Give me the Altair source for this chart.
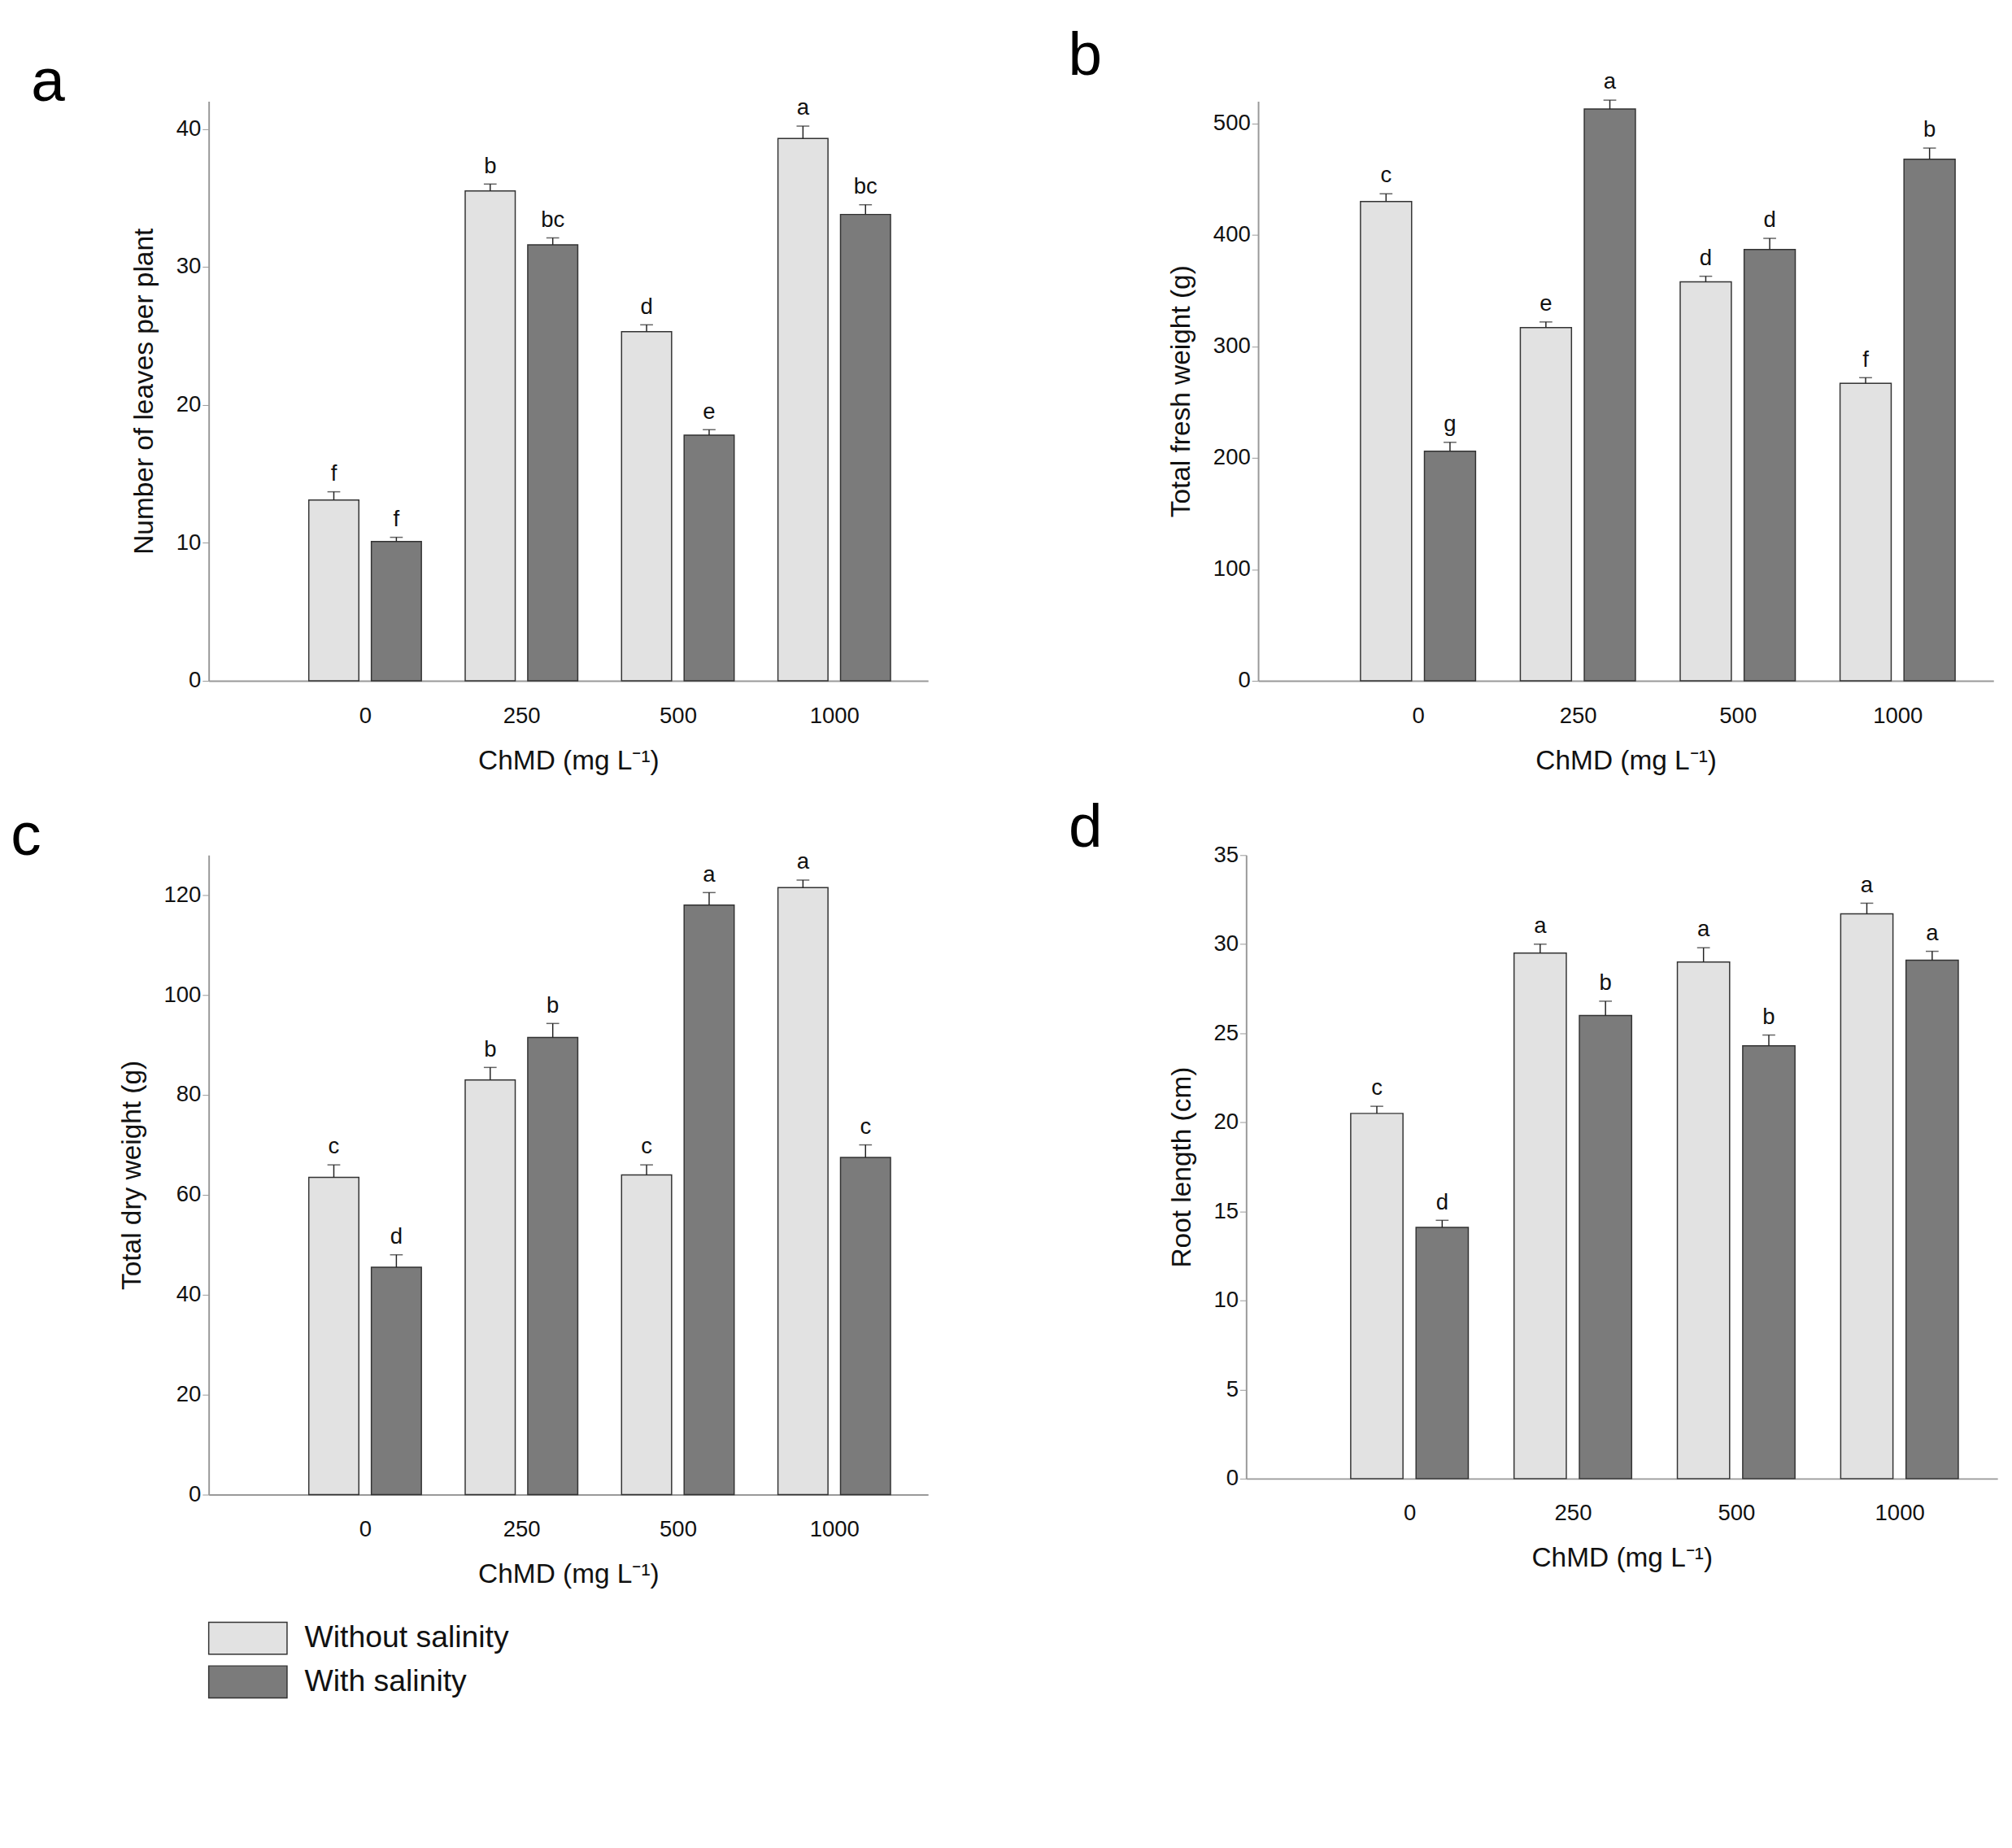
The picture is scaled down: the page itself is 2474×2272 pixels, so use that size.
import pandas as pd
import altair as alt

doses = ["0", "250", "500", "1000"]
groups = ["Without salinity", "With salinity"]

# panel a: number of leaves per plant
a_without = [13.1, 35.5, 25.3, 39.3]
a_with = [10.1, 31.6, 17.8, 33.8]
a_err_without = [0.6, 0.5, 0.5, 0.9]
a_err_with = [0.3, 0.5, 0.4, 0.7]
a_let_without = ["f", "b", "d", "a"]
a_let_with = ["f", "bc", "e", "bc"]

# panel b: total fresh weight
b_without = [430, 317, 358, 267]
b_with = [206, 513, 387, 468]
b_err_without = [7, 5, 5, 5]
b_err_with = [8, 8, 10, 10]
b_let_without = ["c", "e", "d", "f"]
b_let_with = ["g", "a", "d", "b"]

# panel c: total dry weight
c_without = [63.5, 83.0, 64.0, 121.5]
c_with = [45.5, 91.5, 118.0, 67.5]
c_err_without = [2.5, 2.5, 2.0, 1.5]
c_err_with = [2.5, 2.8, 2.5, 2.5]
c_let_without = ["c", "b", "c", "a"]
c_let_with = ["d", "b", "a", "c"]

# panel d: root length
d_without = [20.5, 29.5, 29.0, 31.7]
d_with = [14.1, 26.0, 24.3, 29.1]
d_err_without = [0.4, 0.5, 0.8, 0.6]
d_err_with = [0.4, 0.8, 0.6, 0.5]
d_let_without = ["c", "a", "a", "a"]
d_let_with = ["d", "b", "b", "a"]

FONT = "Liberation Sans"
LIGHT = "#e2e2e2"
DARK = "#7b7b7b"


def panel(letter, vals_wo, vals_w, err_wo, err_w, let_wo, let_w,
          ytitle, ymax, ystep, w, h, dx):
    rows = []
    for i, d in enumerate(doses):
        for g, v, e, l, off in [(groups[0], vals_wo[i], err_wo[i], let_wo[i], -0.2),
                                (groups[1], vals_w[i], err_w[i], let_w[i], 0.2)]:
            c = i + 1 + off
            rows.append({"dose": d, "group": g, "value": v, "top": v + e,
                         "letter": l, "x0": c - 0.16, "x1": c + 0.16, "xc": c})
    df = pd.DataFrame(rows)
    xs = alt.Scale(domain=[0, 4.6], nice=False, zero=False)
    ys = alt.Scale(domain=[0, ymax], nice=False)
    xax = alt.Axis(values=[1, 2, 3, 4], labelExpr="['0','250','500','1000'][datum.value-1]",
                   grid=False, title="ChMD (mg L\u207b\u00b9)", tickSize=0, labelPadding=30,
                   titlePadding=25)
    yax = alt.Axis(values=list(range(0, ymax + 1, ystep)), grid=False, title=ytitle,
                   tickSize=8, titlePadding=22)
    base = alt.Chart(df)
    bars = base.mark_bar(stroke="#333333", strokeWidth=1.5).encode(
        x=alt.X("x0:Q", scale=xs, axis=xax),
        x2="x1:Q",
        y=alt.Y("value:Q", scale=ys, axis=yax),
        y2=alt.datum(0),
        color=alt.Color("group:N", scale=alt.Scale(domain=groups, range=[LIGHT, DARK]),
                        legend=None),
    )
    err = base.mark_rule(color="#222222", strokeWidth=1.5).encode(
        x="xc:Q", y="value:Q", y2="top:Q")
    cap = base.mark_tick(color="#222222", thickness=1.5, size=16, orient="horizontal").encode(
        x="xc:Q", y="top:Q")
    txt = base.mark_text(baseline="bottom", dy=-8, fontSize=28, font=FONT, color="#111111").encode(
        x="xc:Q", y="top:Q", text="letter:N")
    return (bars + err + cap + txt).properties(
        width=w, height=h,
        title=alt.TitleParams(letter, anchor="start", dx=dx, fontSize=76,
                              fontWeight="normal", font=FONT, offset=-20),
    )


pa = panel("a", a_without, a_with, a_err_without, a_err_with, a_let_without, a_let_with,
           "Number of leaves per plant", 42, 10, 900, 725, -125)
pb = panel("b", b_without, b_with, b_err_without, b_err_with, b_let_without, b_let_with,
           "Total fresh weight (g)", 520, 100, 920, 725, -125)
pc = panel("c", c_without, c_with, c_err_without, c_err_with, c_let_without, c_let_with,
           "Total dry weight (g)", 128, 20, 900, 800, -135)
pd_ = panel("d", d_without, d_with, d_err_without, d_err_with, d_let_without, d_let_with,
            "Root length (cm)", 35, 5, 940, 780, -125)

leg_df = pd.DataFrame({"group": groups, "row": [0, 1]})
leg_box = alt.Chart(leg_df).mark_rect(stroke="#333333", strokeWidth=1.5, height=40, width=98).encode(
    x=alt.value(49),
    y=alt.Y("row:O", axis=None, scale=alt.Scale(paddingOuter=0.1)),
    color=alt.Color("group:N", scale=alt.Scale(domain=groups, range=[LIGHT, DARK]), legend=None),
)
leg_txt = alt.Chart(leg_df).mark_text(align="left", fontSize=38, font=FONT, color="#111111").encode(
    x=alt.value(120), y=alt.Y("row:O", axis=None), text="group:N")
legend = (leg_box + leg_txt).properties(width=600, height=120)

chart = alt.vconcat(
    alt.hconcat(pa, pb, spacing=175),
    alt.hconcat(pc, pd_, spacing=175),
    legend,
    spacing=30,
).configure_view(stroke=None).configure_axis(
    labelFont=FONT, titleFont=FONT, labelFontSize=28, titleFontSize=34,
    labelColor="#111111", titleColor="#111111", titleFontWeight="normal",
    domainColor="#999999", domainWidth=2, tickColor="#999999",
).properties(background="white", padding={"left": 5, "top": 5, "right": 10, "bottom": 10})

chart.save("out.html", embed_options={"renderer": "svg", "actions": False})
